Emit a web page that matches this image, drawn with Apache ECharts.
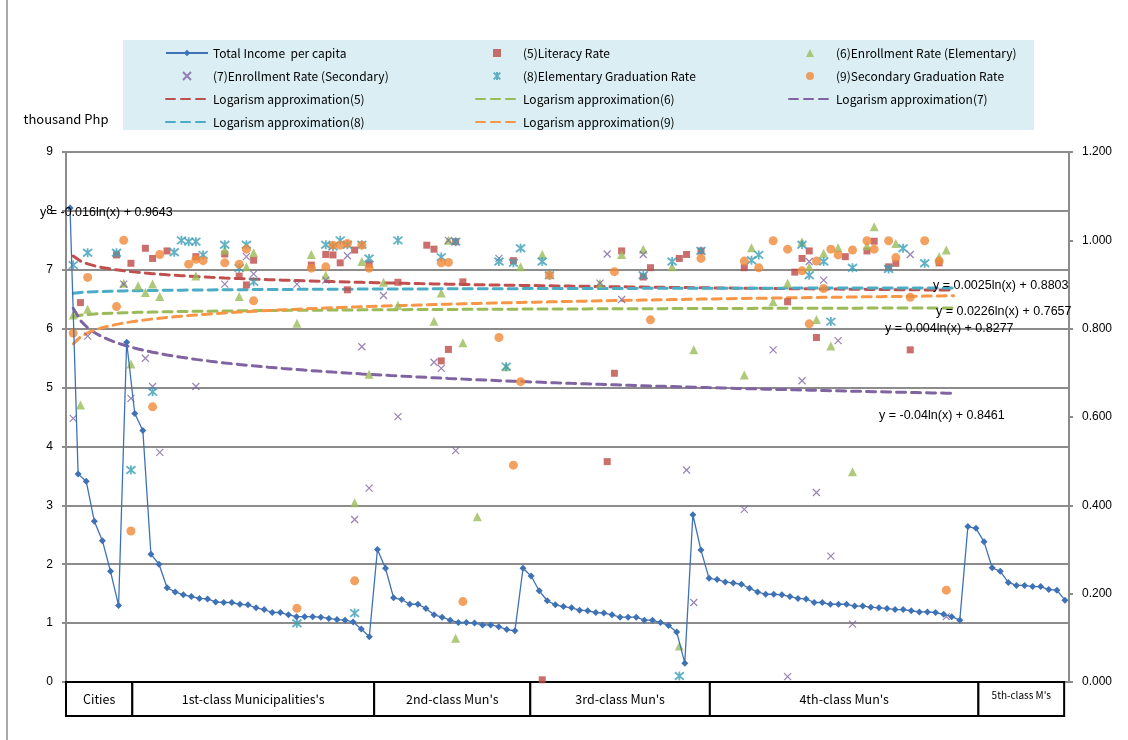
<!DOCTYPE html>
<html><head><meta charset="utf-8">
<script src="https://cdn.jsdelivr.net/npm/echarts@6/dist/echarts.min.js"></script>
<style>html,body{margin:0;padding:0;background:#fff}#c{width:1128px;height:740px}</style>
</head><body><div id="c"></div>
<script>
// ---- data ----
const income = [8.05,3.53,3.41,2.73,2.40,1.88,1.30,5.77,4.56,4.27,
 2.17,2.00,1.60,1.53,1.48,1.45,1.42,1.41,1.36,1.35,
 1.35,1.32,1.31,1.26,1.23,1.18,1.18,1.14,1.11,1.11,
 1.11,1.10,1.08,1.06,1.05,1.02,0.90,0.77,2.25,1.93,
 1.43,1.40,1.32,1.32,1.25,1.14,1.10,1.05,1.01,1.01,
 1.00,0.97,0.97,0.94,0.89,0.87,1.93,1.80,1.55,1.38,
 1.31,1.28,1.26,1.22,1.21,1.18,1.17,1.14,1.10,1.10,
 1.10,1.05,1.05,1.01,0.96,0.85,0.32,2.84,2.24,1.76,
 1.74,1.70,1.68,1.66,1.59,1.53,1.49,1.49,1.48,1.45,
 1.42,1.41,1.35,1.35,1.32,1.32,1.32,1.29,1.29,1.27,
 1.26,1.25,1.23,1.23,1.21,1.19,1.19,1.18,1.15,1.11,
 1.05,2.64,2.61,2.38,1.94,1.88,1.69,1.64,1.64,1.62,
 1.62,1.57,1.56,1.39];
const categories = income.map((_, i) => String(i + 1));

// rate series: [position index, value]
const literacy = [[1,0.859],[6,0.967],[8,0.948],[10,0.982],[11,0.959],[13,0.976],[17,0.963],[21,0.969],[23,0.919],[24,0.899],[25,0.955],[33,0.944],[35,0.968],[36,0.967],[37,0.949],[38,0.888],[39,0.978],[41,0.946],[45,0.905],[49,0.989],[50,0.98],[51,0.727],[52,0.753],[53,0.997],[54,0.906],[61,0.954],[65,0.005],[74,0.499],[75,0.699],[76,0.976],[79,0.917],[80,0.938],[84,0.959],[85,0.968],[87,0.976],[93,0.938],[99,0.861],[100,0.928],[101,0.959],[102,0.976],[103,0.78],[107,0.963],[110,0.976],[111,0.998],[113,0.94],[114,0.948],[116,0.752],[120,0.949]];
const enrollElem = [[0,0.831],[1,0.627],[2,0.844],[7,0.903],[8,0.72],[9,0.897],[10,0.882],[11,0.901],[12,0.873],[17,0.919],[21,0.978],[23,0.873],[24,0.94],[25,0.972],[31,0.812],[33,0.968],[35,0.921],[39,0.406],[40,0.952],[41,0.697],[43,0.905],[45,0.853],[50,0.817],[51,0.881],[52,1.0],[53,0.099],[54,0.768],[56,0.374],[60,0.714],[62,0.94],[65,0.968],[73,0.903],[76,0.968],[79,0.98],[83,0.94],[84,0.0815],[86,0.752],[93,0.695],[94,0.983],[97,0.861],[99,0.903],[101,0.997],[102,0.94],[103,0.821],[104,0.971],[105,0.761],[106,0.983],[108,0.476],[110,0.988],[111,1.031],[114,0.993],[120,0.963],[121,0.978]];
const enrollSec = [[0,0.597],[2,0.783],[7,0.901],[8,0.642],[10,0.733],[11,0.669],[12,0.52],[17,0.669],[21,0.901],[24,0.963],[25,0.924],[31,0.901],[35,0.91],[38,0.965],[39,0.368],[40,0.759],[41,0.439],[43,0.875],[45,0.601],[50,0.724],[51,0.71],[52,1.0],[53,0.524],[59,0.959],[73,0.903],[74,0.969],[76,0.866],[79,0.968],[85,0.48],[86,0.18],[93,0.391],[97,0.752],[99,0.012],[101,0.682],[102,0.952],[103,0.429],[104,0.91],[105,0.285],[106,0.773],[108,0.131],[116,0.968],[121,0.148]];
const eleGrad = [[0,0.944],[2,0.972],[6,0.972],[8,0.48],[11,0.657],[14,0.973],[15,1.0],[16,0.997],[17,0.997],[18,0.967],[21,0.99],[23,0.937],[24,0.99],[25,0.906],[31,0.133],[35,0.99],[36,0.986],[37,1.0],[38,0.99],[39,0.156],[40,0.99],[41,0.959],[45,1.0],[51,0.962],[53,0.997],[59,0.952],[60,0.714],[61,0.949],[62,0.982],[65,0.952],[66,0.921],[79,0.921],[83,0.952],[84,0.0136],[87,0.976],[94,0.955],[95,0.967],[101,0.99],[102,0.921],[104,0.952],[105,0.816],[108,0.938],[113,0.935],[115,0.982],[118,0.948]];
const secGrad = [[0,0.79],[2,0.916],[6,0.85],[7,1.0],[8,0.342],[11,0.623],[12,0.968],[16,0.946],[17,0.957],[18,0.954],[21,0.949],[23,0.946],[24,0.98],[25,0.863],[31,0.167],[33,0.937],[35,0.94],[36,0.989],[37,0.989],[38,0.993],[39,0.229],[40,0.989],[41,0.937],[51,0.949],[52,0.95],[54,0.182],[59,0.78],[61,0.491],[62,0.68],[66,0.921],[75,0.929],[80,0.82],[87,0.959],[93,0.953],[95,0.938],[97,0.999],[99,0.98],[101,0.931],[102,0.811],[103,0.953],[104,0.891],[105,0.98],[106,0.967],[108,0.978],[110,0.999],[111,0.98],[113,0.999],[114,0.961],[116,0.871],[118,0.999],[120,0.953],[121,0.208]];
const rateCount = 123;

// logarithmic trendlines as printed on the chart: y = a ln(x) + b
const trendNames = ['Logarism approximation(5)','Logarism approximation(6)','Logarism approximation(7)','Logarism approximation(8)','Logarism approximation(9)'];
const trendA = [-0.016, 0.004, -0.04, 0.0025, 0.0226];
const trendB = [0.9643, 0.8277, 0.8461, 0.8803, 0.7657];
const trendText = ['y = -0.016ln(x) + 0.9643','y = 0.004ln(x) + 0.8277','y = -0.04ln(x) + 0.8461','y = 0.0025ln(x) + 0.8803','y = 0.0226ln(x) + 0.7657'];

const groupNames = ['Cities', "1st-class Municipalities's", "2nd-class Mun's", "3rd-class Mun's", "4th-class Mun's", "5th-class M's"];
const groupBounds = [0, 8.2, 38.1, 57.4, 79.6, 112.8, 123.4];

const leftTicks = {min: 0, max: 9, interval: 1};
const rightTicks = {min: 0, max: 1.2, interval: 0.2};

// ---- styles ----
const C = {inc:'#3f72b5', red:'#be4b48', green:'#9bbb59', purple:'#7f63a1', cyan:'#3b9db6', orange:'#f08a3a'};
const trendColors = ['#c0504d', '#9bbb59', '#8064a2', '#4bacc6', '#f79646'];
const gFont = '"Noto Sans CJK JP", "Liberation Sans", sans-serif';
const aFont = '"Liberation Sans", Arial, sans-serif';
const SQ = 'path://M0,0L10,0L10,10L0,10Z';
const TRI = 'path://M5,0L10,10L0,10Z';

function trendData(k) {
  const out = [];
  for (let i = 0; i < rateCount; i++) out.push([i, trendA[k] * Math.log(i + 1) + trendB[k]]);
  return out;
}

const scatterBase = {type: 'scatter', xAxisIndex: 1, yAxisIndex: 1, z: 4};
const series = [
  {name: 'Total Income  per capita', type: 'line', xAxisIndex: 0, yAxisIndex: 0, data: income, showAllSymbol: true,
   symbol: 'diamond', symbolSize: 7, lineStyle: {color: C.inc, width: 1.3}, itemStyle: {color: C.inc}, z: 5},
  Object.assign({name: '(5)Literacy Rate', data: literacy, symbol: 'rect', symbolSize: 7, itemStyle: {color: C.red}}, scatterBase),
  Object.assign({name: '(6)Enrollment Rate (Elementary)', data: enrollElem, symbol: 'triangle', symbolSize: 9, itemStyle: {color: C.green}}, scatterBase),
  Object.assign({name: '(7)Enrollment Rate (Secondary)', data: enrollSec, symbol: 'path://M0,0L10,10M10,0L0,10', symbolSize: 7,
    itemStyle: {color: 'rgba(0,0,0,0)', borderColor: C.purple, borderWidth: 1.2}}, scatterBase),
  Object.assign({name: '(8)Elementary Graduation Rate', data: eleGrad, symbol: 'path://M0,0L10,10M10,0L0,10M5,-1L5,11', symbolSize: 9,
    itemStyle: {color: 'rgba(0,0,0,0)', borderColor: C.cyan, borderWidth: 1.8}}, scatterBase),
  Object.assign({name: '(9)Secondary Graduation Rate', data: secGrad, symbol: 'circle', symbolSize: 9, itemStyle: {color: C.orange}}, scatterBase)
];
trendNames.forEach((n, k) => {
  series.push({name: n, type: 'line', xAxisIndex: 1, yAxisIndex: 1, data: trendData(k), symbol: 'none', silent: true, z: 3,
    lineStyle: {color: trendColors[k], width: 3, type: [9, 6], cap: 'round'}, itemStyle: {color: trendColors[k]}});
});
series.push({
  type: 'custom', xAxisIndex: 2, yAxisIndex: 2, silent: true,
  data: groupNames.map((n, i) => [groupBounds[i], groupBounds[i + 1], i]),
  encode: {x: [0, 1]},
  renderItem: function (params, api) {
    const p0 = api.coord([api.value(0), 1]);
    const p1 = api.coord([api.value(1), 0]);
    const idx = api.value(2);
    const small = idx === groupNames.length - 1;
    return {type: 'group', children: [
      {type: 'rect', shape: {x: p0[0], y: p0[1], width: p1[0] - p0[0], height: p1[1] - p0[1]},
       style: {fill: '#fff', stroke: '#000', lineWidth: 2}},
      {type: 'text', style: {x: (p0[0] + p1[0]) / 2, y: small ? p0[1] + 13 : (p0[1] + p1[1]) / 2,
        text: groupNames[idx], align: 'center', verticalAlign: 'middle', fill: '#000',
        font: (small ? '10px ' : '12.5px ') + gFont}}
    ]};
  }
});

const legendCommon = {orient: 'vertical', top: 46, padding: 0, itemWidth: 42, itemHeight: 8, itemGap: 9,
  textStyle: {fontFamily: gFont, fontSize: 12, color: '#000', lineHeight: 14}, selectedMode: false};
const noDot = {opacity: 0};

const gridLine = {show: true, lineStyle: {color: '#8c8c8c', width: 2}};
const option = {
  animation: false,
  backgroundColor: '#fff',
  grid: [{left: 66, right: 59, top: 152, bottom: 58}, {left: 66, right: 59, top: 682, height: 34}],
  xAxis: [
    {type: 'category', gridIndex: 0, data: categories, boundaryGap: true, axisLine: {show: false}, axisTick: {show: false}, axisLabel: {show: false}},
    {type: 'value', gridIndex: 0, min: -1, max: 138, show: false},
    {type: 'value', gridIndex: 1, min: 0, max: income.length, show: false}
  ],
  yAxis: [
    {type: 'value', gridIndex: 0, min: leftTicks.min, max: leftTicks.max, interval: leftTicks.interval,
     name: 'thousand Php', nameLocation: 'end', nameGap: 26,
     nameTextStyle: {fontFamily: gFont, fontSize: 13, color: '#000', align: 'center'},
     axisLine: {show: true, onZero: false, lineStyle: {color: '#8c8c8c', width: 2}},
     axisTick: {show: true, length: 4, lineStyle: {color: '#8c8c8c', width: 2}},
     axisLabel: {color: '#000', fontFamily: aFont, fontSize: 12, margin: 13},
     splitLine: gridLine},
    {type: 'value', gridIndex: 0, position: 'right', min: rightTicks.min, max: rightTicks.max, interval: rightTicks.interval,
     axisLine: {show: true, onZero: false, lineStyle: {color: '#8c8c8c', width: 2}},
     axisTick: {show: true, length: 4, lineStyle: {color: '#8c8c8c', width: 2}},
     axisLabel: {color: '#000', fontFamily: aFont, fontSize: 12, margin: 13, formatter: v => v.toFixed(3)},
     splitLine: {show: false}},
    {type: 'value', gridIndex: 1, min: 0, max: 1, show: false}
  ],
  legend: [
    Object.assign({left: 165, data: ['Total Income  per capita', '(7)Enrollment Rate (Secondary)',
      {name: trendNames[0], itemStyle: noDot}, {name: trendNames[3], itemStyle: noDot}]}, legendCommon),
    Object.assign({left: 475, data: [{name: '(5)Literacy Rate', icon: SQ}, '(8)Elementary Graduation Rate',
      {name: trendNames[1], itemStyle: noDot}, {name: trendNames[4], itemStyle: noDot}]}, legendCommon),
    Object.assign({left: 788, data: [{name: '(6)Enrollment Rate (Elementary)', icon: TRI}, '(9)Secondary Graduation Rate',
      {name: trendNames[2], itemStyle: noDot}]}, legendCommon)
  ],
  graphic: [
    {type: 'line', z: -10, shape: {x1: 7, y1: 0, x2: 7, y2: 740}, style: {stroke: '#8c8c8c', lineWidth: 1.5}},
    {type: 'rect', z: -5, shape: {x: 123, y: 40, width: 911, height: 90}, style: {fill: '#daeef3'}},
    {type: 'text', z: 10, x: 40, y: 213, style: {text: trendText[0], font: '12.5px ' + aFont, fill: '#000', verticalAlign: 'middle'}},
    {type: 'text', z: 10, x: 933, y: 286, style: {text: trendText[3], font: '12.5px ' + aFont, fill: '#000', verticalAlign: 'middle'}},
    {type: 'text', z: 10, x: 936, y: 312, style: {text: trendText[4], font: '12.5px ' + aFont, fill: '#000', verticalAlign: 'middle'}},
    {type: 'text', z: 10, x: 885, y: 329, style: {text: trendText[1], font: '12.5px ' + aFont, fill: '#000', verticalAlign: 'middle'}},
    {type: 'text', z: 10, x: 879, y: 416, style: {text: trendText[2], font: '12.5px ' + aFont, fill: '#000', verticalAlign: 'middle'}}
  ],
  series: series
};
const chart = echarts.init(document.getElementById('c'), null, {renderer: 'canvas'});
chart.setOption(option);
</script>
</body></html>
